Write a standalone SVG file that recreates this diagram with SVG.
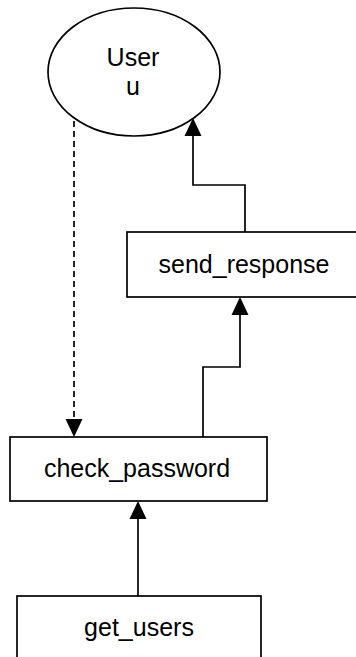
<svg xmlns="http://www.w3.org/2000/svg" width="356" height="657" viewBox="0 0 356 657">
<defs>
<style>
.n{fill:#fff;stroke:#000;stroke-width:1.7}
.t{font-family:"Liberation Sans",Arial,sans-serif;font-size:25px;fill:#000;text-anchor:middle}
.e{fill:none;stroke:#000;stroke-width:1.7}
.d{stroke-dasharray:6,4}
</style>
</defs>
<rect width="356" height="657" fill="#fff"/>
<g id="connectors">
<path class="e d" d="M74,121 V420"/>
<path d="M65.5,419 L82.5,419 L74,437 z" fill="#000"/>
<path class="e" d="M138,596 V518"/>
<path d="M129.5,519 L146.5,519 L138,501 z" fill="#000"/>
<path class="e" d="M203,437 V367 H240 V314"/>
<path d="M231.5,315 L248.5,315 L240,297 z" fill="#000"/>
<path class="e" d="M245,232 V185 H193 V135"/>
<path d="M184.5,136 L201.5,136 L193,118 z" fill="#000"/>
</g>
<g id="user">
<ellipse class="n" cx="134" cy="72" rx="86" ry="64"/>
<text class="t" x="133" y="66">User</text>
<text class="t" x="133" y="95">u</text>
</g>
<g id="send_response">
<rect class="n" x="127" y="232" width="240" height="65"/>
<text class="t" x="244" y="273">send_response</text>
</g>
<g id="check_password">
<rect class="n" x="10" y="437" width="257" height="64"/>
<text class="t" x="137" y="477">check_password</text>
</g>
<g id="get_users">
<rect class="n" x="17" y="596" width="244" height="70"/>
<text class="t" x="139" y="636">get_users</text>
</g>
</svg>
